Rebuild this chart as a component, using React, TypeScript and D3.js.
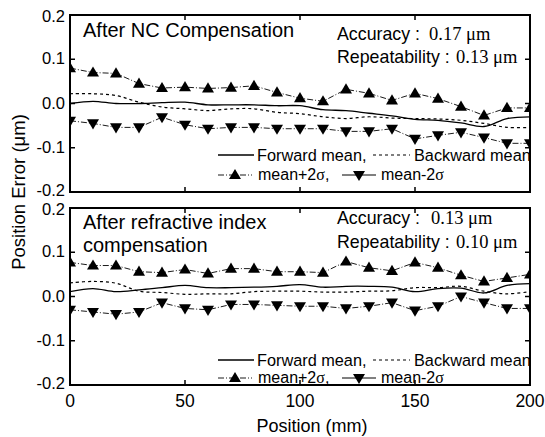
import React from 'react';
import * as d3 from 'd3';

// positions along the axis (mm)
const positions = [0, 10, 20, 30, 40, 50, 60, 70, 80, 90, 100, 110, 120, 130, 140, 150, 160, 170, 180, 190, 200];

// top panel: after NC compensation
const ncForward = [0.0, 0.005, 0.0, 0.0, 0.002, 0.003, -0.003, -0.003, -0.003, -0.005, -0.005, -0.014, -0.016, -0.022, -0.028, -0.036, -0.038, -0.044, -0.052, -0.034, -0.03];
const ncBackward = [0.022, 0.022, 0.018, 0.003, -0.008, -0.012, -0.016, -0.012, -0.012, -0.02, -0.023, -0.03, -0.034, -0.03, -0.033, -0.034, -0.035, -0.038, -0.045, -0.054, -0.054];
const ncPlus = [0.08, 0.07, 0.068, 0.045, 0.035, 0.037, 0.034, 0.036, 0.04, 0.025, 0.012, 0.005, 0.032, 0.023, 0.007, 0.023, 0.011, -0.007, -0.027, -0.01, -0.01];
const ncMinus = [-0.039, -0.045, -0.054, -0.054, -0.031, -0.048, -0.057, -0.054, -0.054, -0.057, -0.057, -0.057, -0.063, -0.063, -0.057, -0.08, -0.072, -0.065, -0.077, -0.09, -0.09];

// bottom panel: after refractive index compensation
const riForward = [0.011, 0.018, 0.011, 0.015, 0.02, 0.025, 0.02, 0.02, 0.021, 0.023, 0.027, 0.021, 0.023, 0.023, 0.021, 0.011, 0.018, 0.019, 0.008, 0.025, 0.029];
const riBackward = [0.031, 0.034, 0.03, 0.012, 0.009, 0.005, 0.006, 0.006, 0.011, 0.012, 0.012, 0.01, 0.01, 0.012, 0.013, 0.02, 0.02, 0.023, 0.012, 0.006, 0.011];
const riPlus = [0.077, 0.07, 0.07, 0.056, 0.054, 0.061, 0.052, 0.063, 0.063, 0.056, 0.056, 0.054, 0.079, 0.065, 0.058, 0.077, 0.065, 0.048, 0.034, 0.042, 0.05];
const riMinus = [-0.03, -0.035, -0.04, -0.035, -0.014, -0.027, -0.03, -0.018, -0.018, -0.02, -0.022, -0.022, -0.027, -0.022, -0.014, -0.032, -0.022, 0.0, -0.014, -0.027, -0.027];

const yTicks = [0.2, 0.1, 0, -0.1, -0.2];
const yTickLabels = ['0.2', '0.1', '0.0', '-0.1', '-0.2'];
const xTicks = [0, 50, 100, 150, 200];

const SANS = 'Arial, "Liberation Sans", sans-serif';
const SERIF = '"Times New Roman", "Liberation Serif", serif';
const DASHDOT = '6,2,1,2';

const x = d3.scaleLinear().domain([0, 200]).range([70, 530]);

function triangle(cx: number, cy: number, up: boolean, s = 6) {
  const h = s * 1.7;
  return up
    ? `M${cx},${cy - h * 0.6}L${cx + s},${cy + h * 0.4}L${cx - s},${cy + h * 0.4}Z`
    : `M${cx},${cy + h * 0.6}L${cx + s},${cy - h * 0.4}L${cx - s},${cy - h * 0.4}Z`;
}

function Panel(props: any) {
  const {
    top, bottom, forward, backward, plus, minus, title, titleY, accuracy, repeat, accY, accNumX, repNumX,
    legY, showX,
  } = props;
  const y = d3.scaleLinear().domain([-0.2, 0.2]).range([bottom, top]);

  const smooth = d3.line<number>()
    .x((d, i) => x(positions[i]))
    .y((d) => y(d))
    .curve(d3.curveCatmullRom);
  const straight = d3.line<number>()
    .x((d, i) => x(positions[i]))
    .y((d) => y(d));

  const clipId = `clip-${top}`;
  const [x0, x1] = x.range();

  // nudge the end labels so the two panels' labels don't collide
  const labelShift = (t: number) => (t === 0.2 ? 2 : t === -0.2 ? -1 : 0);

  return (
    <g>
      <defs>
        <clipPath id={clipId}>
          <rect x={x0} y={top} width={x1 - x0} height={bottom - top} />
        </clipPath>
      </defs>
      <g clipPath={`url(#${clipId})`}>
        <path d={smooth(forward) || ''} fill="none" stroke="#000" strokeWidth={1.3} />
        <path d={smooth(backward) || ''} fill="none" stroke="#000" strokeWidth={1.2} strokeDasharray="3,3" />
        <path d={straight(plus) || ''} fill="none" stroke="#000" strokeWidth={0.9} strokeDasharray={DASHDOT} />
        <path d={straight(minus) || ''} fill="none" stroke="#000" strokeWidth={0.9} strokeDasharray={DASHDOT} />
        {plus.map((d: number, i: number) => (
          <path key={`p${i}`} d={triangle(x(positions[i]), y(d), true)} fill="#000" />
        ))}
        {minus.map((d: number, i: number) => (
          <path key={`m${i}`} d={triangle(x(positions[i]), y(d), false)} fill="#000" />
        ))}

        {/* legend */}
        <line x1={218} x2={254} y1={legY[0]} y2={legY[0]} stroke="#000" strokeWidth={1.3} />
        <text x={257} y={legY[0] + 6} fontFamily={SANS} fontSize={16.3} fill="#000">Forward mean,</text>
        <line x1={373} x2={410} y1={legY[0]} y2={legY[0]} stroke="#000" strokeWidth={1.2} strokeDasharray="3,3" />
        <text x={414} y={legY[0] + 6} fontFamily={SANS} fontSize={16.3} fill="#000">Backward mean</text>

        <line x1={218} x2={252} y1={legY[1]} y2={legY[1]} stroke="#000" strokeWidth={0.9} strokeDasharray={DASHDOT} />
        <path d={triangle(235, legY[1], true)} fill="#000" />
        <text x={258} y={legY[1] + 5} fontFamily={SANS} fontSize={16} fill="#000">
          mean+2<tspan fontFamily={SERIF}>σ</tspan>,
        </text>
        <line x1={342} x2={376} y1={legY[1]} y2={legY[1]} stroke="#000" strokeWidth={1} />
        <path d={triangle(359, legY[1], false)} fill="#000" />
        <text x={381} y={legY[1] + 5} fontFamily={SANS} fontSize={16} fill="#000">
          mean-2<tspan fontFamily={SERIF}>σ</tspan>
        </text>
      </g>

      {/* frame */}
      <rect x={x0} y={top} width={x1 - x0} height={bottom - top} fill="none" stroke="#000" strokeWidth={2} />

      {/* y ticks */}
      {yTicks.map((t, i) => (
        <g key={`yt${i}`}>
          <line x1={x0} x2={x0 + 5} y1={y(t)} y2={y(t)} stroke="#000" strokeWidth={1.5} />
          <line x1={x1} x2={x1 - 5} y1={y(t)} y2={y(t)} stroke="#000" strokeWidth={1.5} />
          <text x={x0 - 5} y={y(t) + 5 + labelShift(t)} textAnchor="end" fontFamily={SANS} fontSize={16.5} fill="#000">
            {yTickLabels[i]}
          </text>
        </g>
      ))}

      {/* x ticks */}
      {xTicks.map((t) => (
        <g key={`xt${t}`}>
          <line x1={x(t)} x2={x(t)} y1={bottom} y2={bottom - 5} stroke="#000" strokeWidth={1.5} />
          <line x1={x(t)} x2={x(t)} y1={top} y2={top + 5} stroke="#000" strokeWidth={1.5} />
          {showX && (
            <text x={x(t)} y={bottom + 22} textAnchor="middle" fontFamily={SANS} fontSize={17.5} fill="#000">{t}</text>
          )}
        </g>
      ))}

      {/* title */}
      {title.map((line: string, i: number) => (
        <text key={`ti${i}`} x={83} y={titleY[i]} fontFamily={SANS} fontSize={20} fill="#000">{line}</text>
      ))}

      {/* accuracy / repeatability */}
      <text x={337} y={accY[0]} fontFamily={SANS} fontSize={17.8} fill="#000">Accuracy :</text>
      <text x={accNumX} y={accY[0]} fontFamily={SERIF} fontSize={18.5} fill="#000">{accuracy} μm</text>
      <text x={337} y={accY[1]} fontFamily={SANS} fontSize={17.8} fill="#000">Repeatability :</text>
      <text x={repNumX} y={accY[1]} fontFamily={SERIF} fontSize={18.5} fill="#000">{repeat} μm</text>
    </g>
  );
}

export default function App() {
  return (
    <div style={{ position: 'fixed', left: 0, top: 0, background: '#fff' }}>
      <svg width={545} height={437} viewBox="0 0 545 437" style={{ display: 'block' }}>
        <rect x={0} y={0} width={545} height={437} fill="#fff" />
        <Panel
          top={15}
          bottom={192}
          forward={ncForward}
          backward={ncBackward}
          plus={ncPlus}
          minus={ncMinus}
          title={['After NC Compensation']}
          titleY={[37]}
          accuracy="0.17"
          repeat="0.13"
          accY={[40, 63]}
          accNumX={429}
          repNumX={456}
          legY={[155, 175]}
          showX={false}
        />
        <Panel
          top={208}
          bottom={385}
          forward={riForward}
          backward={riBackward}
          plus={riPlus}
          minus={riMinus}
          title={['After refractive index', 'compensation']}
          titleY={[229, 252]}
          accuracy="0.13"
          repeat="0.10"
          accY={[224, 248]}
          accNumX={431}
          repNumX={456}
          legY={[360, 378]}
          showX
        />
        <text
          transform="translate(25,192) rotate(-90)"
          textAnchor="middle"
          fontFamily={SANS}
          fontSize={18.5}
          fill="#000"
        >
          Position Error (μm)
        </text>
        <text x={312} y={432} textAnchor="middle" fontFamily={SANS} fontSize={18} fill="#000">
          Position (mm)
        </text>
      </svg>
    </div>
  );
}
